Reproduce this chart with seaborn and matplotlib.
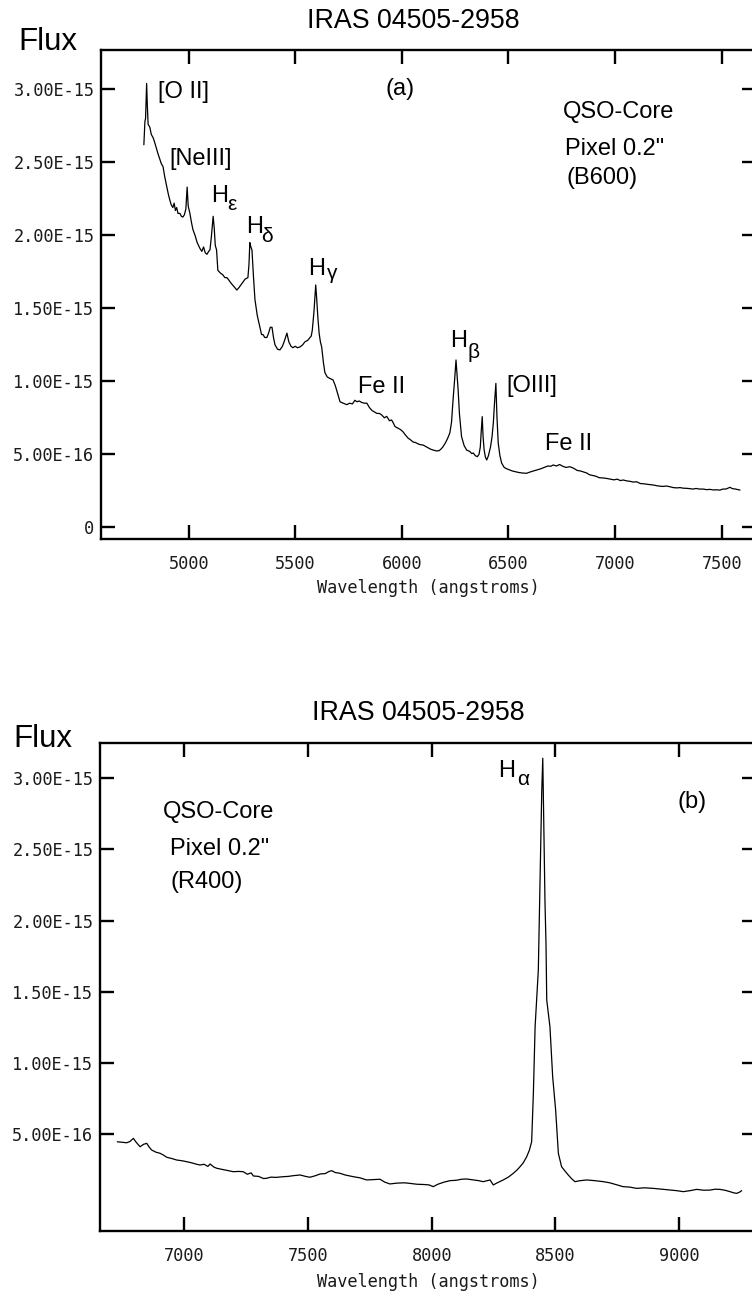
import matplotlib
matplotlib.use("Agg")
import matplotlib.pyplot as plt
import seaborn as sns
import pandas as pd
from matplotlib.ticker import FixedLocator, FuncFormatter

sns.set_style("ticks")
plt.rcParams["font.family"] = ["Liberation Sans", "DejaVu Sans"]
plt.rcParams["text.color"] = "black"
plt.rcParams["axes.labelcolor"] = "black"

FLUX_UNIT = 1e-15
TITLE = "IRAS 04505-2958"
X_LABEL = "Wavelength (angstroms)"
Y_LABEL = "Flux"

# ---- B600 spectrum (blue arm), flux in units of 1e-15 ----
wave_b600 = [
    4790, 4795, 4798, 4801, 4803, 4806, 4810, 4818, 4825, 4833, 4840, 4848, 4856, 4865,
    4872, 4880, 4888, 4898, 4905, 4912, 4918, 4926, 4932, 4938, 4944, 4950, 4959, 4966,
    4973, 4980, 4987, 4993, 4998, 5006, 5013, 5020, 5030, 5040, 5053, 5062, 5070, 5078,
    5086, 5094, 5100, 5106, 5112, 5115, 5120, 5125, 5131, 5137, 5150, 5160, 5170, 5180,
    5190, 5200, 5212, 5226, 5235, 5245, 5255, 5265, 5278, 5283, 5287, 5292, 5297, 5304,
    5311, 5322, 5334, 5342, 5349, 5357, 5367, 5375, 5383, 5391, 5398, 5405, 5417, 5428,
    5440, 5450, 5461, 5470, 5480, 5489, 5500, 5510, 5522, 5535, 5545, 5558, 5569, 5575,
    5580, 5588, 5593, 5596, 5600, 5606, 5612, 5618, 5624, 5632, 5639, 5650, 5662, 5677,
    5688, 5700, 5710, 5725, 5742, 5755, 5768, 5780, 5789, 5800, 5812, 5825, 5836, 5848,
    5860, 5872, 5883, 5895, 5905, 5918, 5929, 5942, 5952, 5958, 5968, 5980, 5993, 6005,
    6018, 6030, 6040, 6052, 6065, 6078, 6090, 6099, 6110, 6122, 6135, 6150, 6163, 6175,
    6185, 6193, 6205, 6215, 6225, 6233, 6240, 6248, 6254, 6259, 6264, 6270, 6280, 6292,
    6304, 6318, 6328, 6335, 6345, 6354, 6362, 6368, 6372, 6377, 6381, 6386, 6392, 6398,
    6406, 6416, 6423, 6429, 6435, 6441, 6446, 6452, 6460, 6468, 6480, 6493, 6507, 6520,
    6535, 6550, 6565, 6585, 6600, 6615, 6632, 6650, 6668, 6685, 6698, 6710, 6725, 6740,
    6755, 6770, 6788, 6805, 6822, 6840, 6855, 6867, 6880, 6895, 6910, 6925, 6944, 6960,
    6978, 6995, 7010, 7025, 7038, 7055, 7070, 7085, 7101, 7118, 7135, 7150, 7165, 7179,
    7195, 7210, 7225, 7240, 7257, 7273, 7290, 7305, 7320, 7336, 7350, 7365, 7380, 7396,
    7413, 7430, 7445, 7460, 7475, 7492, 7505, 7520, 7530, 7539, 7550, 7565, 7576, 7586,
]
flux_b600 = [
    2.62, 2.78, 2.80, 2.95, 3.04, 2.90, 2.76, 2.74, 2.69, 2.67, 2.64, 2.60, 2.56, 2.52,
    2.49, 2.47, 2.40, 2.33, 2.28, 2.24, 2.21, 2.19, 2.22, 2.17, 2.19, 2.15, 2.15, 2.13,
    2.125, 2.14, 2.18, 2.33, 2.20, 2.15, 2.09, 2.04, 2.00, 1.95, 1.91, 1.89, 1.92, 1.88,
    1.87, 1.89, 1.90, 1.98, 2.08, 2.13, 2.05, 1.93, 1.90, 1.76, 1.74, 1.73, 1.71, 1.71,
    1.69, 1.67, 1.65, 1.625, 1.64, 1.66, 1.68, 1.70, 1.71, 1.80, 1.95, 1.92, 1.90, 1.72,
    1.56, 1.45, 1.37, 1.32, 1.32, 1.30, 1.30, 1.33, 1.37, 1.37, 1.30, 1.25, 1.22, 1.215,
    1.24, 1.28, 1.33, 1.27, 1.24, 1.23, 1.24, 1.23, 1.235, 1.25, 1.27, 1.28, 1.30, 1.31,
    1.35, 1.48, 1.60, 1.66, 1.58, 1.44, 1.33, 1.27, 1.235, 1.13, 1.06, 1.03, 1.02, 1.01,
    0.97, 0.91, 0.86, 0.85, 0.84, 0.85, 0.845, 0.87, 0.86, 0.865, 0.855, 0.85, 0.85, 0.82,
    0.80, 0.79, 0.78, 0.78, 0.77, 0.75, 0.76, 0.73, 0.735, 0.72, 0.69, 0.68, 0.67, 0.655,
    0.63, 0.61, 0.60, 0.585, 0.58, 0.57, 0.565, 0.564, 0.555, 0.545, 0.535, 0.528, 0.523, 0.525,
    0.538, 0.552, 0.58, 0.61, 0.646, 0.72, 0.87, 1.02, 1.146, 1.04, 0.94, 0.78, 0.621, 0.56,
    0.529, 0.52, 0.505, 0.509, 0.49, 0.484, 0.50, 0.55, 0.65, 0.758, 0.62, 0.529, 0.48, 0.461,
    0.49, 0.552, 0.62, 0.714, 0.86, 0.986, 0.76, 0.577, 0.49, 0.44, 0.41, 0.40, 0.392, 0.385,
    0.38, 0.375, 0.372, 0.37, 0.378, 0.385, 0.392, 0.40, 0.41, 0.42, 0.418, 0.427, 0.42, 0.43,
    0.418, 0.41, 0.415, 0.405, 0.39, 0.385, 0.378, 0.372, 0.36, 0.355, 0.35, 0.34, 0.338, 0.335,
    0.33, 0.325, 0.33, 0.32, 0.324, 0.318, 0.315, 0.31, 0.312, 0.30, 0.298, 0.295, 0.292, 0.29,
    0.285, 0.282, 0.28, 0.283, 0.278, 0.272, 0.27, 0.272, 0.268, 0.267, 0.265, 0.262, 0.266, 0.262,
    0.262, 0.258, 0.26, 0.256, 0.257, 0.255, 0.262, 0.262, 0.268, 0.274, 0.265, 0.262, 0.258, 0.255,
]

# ---- R400 spectrum (red arm), flux in units of 1e-15 ----
wave_r400 = [
    6729, 6745, 6767, 6780, 6794, 6805, 6821, 6835, 6848, 6858, 6868, 6885, 6902, 6915,
    6929, 6950, 6969, 6990, 7010, 7030, 7050, 7063, 7080, 7095, 7104, 7120, 7131, 7150,
    7175, 7198, 7220, 7238, 7255, 7270, 7279, 7300, 7320, 7333, 7350, 7370, 7400, 7420,
    7440, 7468, 7490, 7508, 7530, 7549, 7570, 7585, 7596, 7610, 7629, 7650, 7683, 7710,
    7737, 7760, 7791, 7810, 7831, 7860, 7890, 7912, 7940, 7970, 7990, 8006, 8025, 8050,
    8074, 8100, 8120, 8141, 8170, 8190, 8208, 8225, 8236, 8249, 8265, 8289, 8310, 8330,
    8345, 8357, 8370, 8384, 8395, 8404, 8411, 8418, 8427, 8431, 8435, 8441, 8445, 8449,
    8451, 8454, 8458, 8462, 8465, 8478, 8489, 8501, 8512, 8525, 8540, 8552, 8565, 8579,
    8600, 8627, 8660, 8694, 8720, 8750, 8774, 8800, 8829, 8860, 8896, 8930, 8963, 8990,
    9017, 9045, 9071, 9100, 9125, 9145, 9165, 9185, 9206, 9220, 9233, 9245, 9253,
]
flux_r400 = [
    0.448, 0.445, 0.441, 0.45, 0.472, 0.445, 0.413, 0.43, 0.437, 0.41, 0.39, 0.375, 0.367, 0.355,
    0.339, 0.33, 0.32, 0.315, 0.308, 0.30, 0.29, 0.285, 0.29, 0.275, 0.292, 0.27, 0.262, 0.255,
    0.245, 0.238, 0.24, 0.238, 0.22, 0.23, 0.208, 0.205, 0.19, 0.192, 0.20, 0.198, 0.203, 0.205,
    0.21, 0.215, 0.205, 0.199, 0.21, 0.222, 0.225, 0.24, 0.245, 0.232, 0.227, 0.215, 0.203, 0.195,
    0.18, 0.182, 0.185, 0.165, 0.152, 0.158, 0.16, 0.156, 0.15, 0.148, 0.145, 0.133, 0.15, 0.165,
    0.175, 0.178, 0.185, 0.187, 0.18, 0.175, 0.168, 0.175, 0.18, 0.145, 0.16, 0.18, 0.20, 0.227,
    0.25, 0.273, 0.30, 0.343, 0.39, 0.448, 0.788, 1.255, 1.536, 1.653, 2.004, 2.545, 2.917, 3.139,
    2.917, 2.566, 2.124, 1.841, 1.443, 1.255, 0.904, 0.671, 0.367, 0.273, 0.24, 0.215, 0.19, 0.168,
    0.175, 0.18, 0.175, 0.168, 0.16, 0.145, 0.133, 0.13, 0.121, 0.125, 0.121, 0.115, 0.109, 0.105,
    0.098, 0.105, 0.114, 0.108, 0.109, 0.115, 0.114, 0.108, 0.098, 0.09, 0.086, 0.095, 0.105,
]

xticks_b600 = [5000, 5500, 6000, 6500, 7000, 7500]
xticks_r400 = [7000, 7500, 8000, 8500, 9000]
yticks_b600 = [0.0, 0.5, 1.0, 1.5, 2.0, 2.5, 3.0]
yticks_r400 = [0.5, 1.0, 1.5, 2.0, 2.5, 3.0]

W, H = 752, 1294
fig = plt.figure(figsize=(W / 100, H / 100), dpi=100)
fig.patch.set_facecolor("white")


def axes_px(left, top, right, bottom):
    return fig.add_axes([left / W, 1 - bottom / H, (right - left) / W, (bottom - top) / H])


def flux_label(v, pos):
    if abs(v) < 1e-30:
        return "0"
    return f"{v:.2E}"


MONO = "DejaVu Sans Mono"
ANN = 17
GREEK = 15


def style_axes(ax, xticks, yticks, xlim, ylim, xlab_y):
    ax.set_xlim(*xlim)
    ax.set_ylim(ylim[0] * FLUX_UNIT, ylim[1] * FLUX_UNIT)
    ax.xaxis.set_major_locator(FixedLocator(xticks))
    ax.yaxis.set_major_locator(FixedLocator([t * FLUX_UNIT for t in yticks]))
    ax.yaxis.set_major_formatter(FuncFormatter(flux_label))
    ax.xaxis.set_major_formatter(FuncFormatter(lambda v, p: f"{v:.0f}"))
    for s in ax.spines.values():
        s.set_visible(True)
        s.set_linewidth(1.7)
        s.set_color("black")
    ax.tick_params(axis="both", which="major", direction="in", length=10, width=1.7,
                   top=True, right=True, labeltop=False, labelright=False,
                   labelsize=12.2, colors="black", labelcolor="#1a1a1a")
    ax.tick_params(axis="x", pad=11.5)
    ax.tick_params(axis="y", pad=4.8)
    for lab in ax.get_xticklabels() + ax.get_yticklabels():
        lab.set_fontfamily(MONO)
    ax.set_xlabel(X_LABEL, fontfamily=MONO, fontsize=12.2, color="#1a1a1a")
    ax.xaxis.label.set_verticalalignment("center")
    ax.xaxis.set_label_coords(0.5, xlab_y)
    ax.set_ylabel("")
    ax.set_facecolor("white")
    ax.grid(False)


def put(ax, s, x, y, size=ANN):
    ax.text(x, y * FLUX_UNIT, s, fontsize=size, ha="left", va="baseline",
            color="black", transform=ax.transData)


# ---- panel (a): B600 ----
ax1 = axes_px(101, 50, 756, 539)
df1 = pd.DataFrame({"wave": wave_b600, "flux": [f * FLUX_UNIT for f in flux_b600]})
sns.lineplot(data=df1, x="wave", y="flux", ax=ax1, color="black", linewidth=0.9,
             estimator=None, sort=False)
style_axes(ax1, xticks_b600, yticks_b600, (4589, 7661), (-0.080, 3.269), -0.1002)

put(ax1, "[O II]", 4856, 2.938)
put(ax1, "[NeIII]", 4908, 2.481)
put(ax1, "H", 5105, 2.230)
put(ax1, "\u03b5", 5180, 2.173, GREEK)
put(ax1, "H", 5269, 2.014)
put(ax1, "\u03b4", 5342, 1.956, GREEK)
put(ax1, "H", 5561, 1.728)
put(ax1, "\u03b3", 5647, 1.701, GREEK)
put(ax1, "Fe II", 5794, 0.920)
put(ax1, "H", 6225, 1.237)
put(ax1, "\u03b2", 6310, 1.160, GREEK)
put(ax1, "[OIII]", 6488, 0.929)
put(ax1, "Fe II", 6671, 0.529)
put(ax1, "(a)", 5921, 2.958)
put(ax1, "QSO-Core", 6755, 2.803)
put(ax1, "Pixel 0.2\"", 6765, 2.550)
put(ax1, "(B600)", 6770, 2.351)

fig.text(307 / W, 1 - 28 / H, TITLE, fontsize=19.3, ha="left", va="baseline", color="black")
fig.text(18 / W, 1 - 50 / H, Y_LABEL, fontsize=22.5, ha="left", va="baseline", color="black")

# ---- panel (b): R400 ----
ax2 = axes_px(100, 743, 756, 1230.7)
df2 = pd.DataFrame({"wave": wave_r400, "flux": [f * FLUX_UNIT for f in flux_r400]})
sns.lineplot(data=df2, x="wave", y="flux", ax=ax2, color="black", linewidth=0.9,
             estimator=None, sort=False)
style_axes(ax2, xticks_r400, yticks_r400, (6659, 9311), (-0.176, 3.246), -0.105)

put(ax2, "QSO-Core", 6913, 2.720)
put(ax2, "Pixel 0.2\"", 6942, 2.460)
put(ax2, "(R400)", 6945, 2.228)
put(ax2, "(b)", 8995, 2.790)
put(ax2, "H", 8268, 3.008)
put(ax2, "\u03b1", 8345, 2.952, GREEK)

fig.text(312 / W, 1 - 720 / H, TITLE, fontsize=19.3, ha="left", va="baseline", color="black")
fig.text(13 / W, 1 - 747 / H, Y_LABEL, fontsize=22.5, ha="left", va="baseline", color="black")

fig.savefig("out.png", dpi=100, facecolor="white")
